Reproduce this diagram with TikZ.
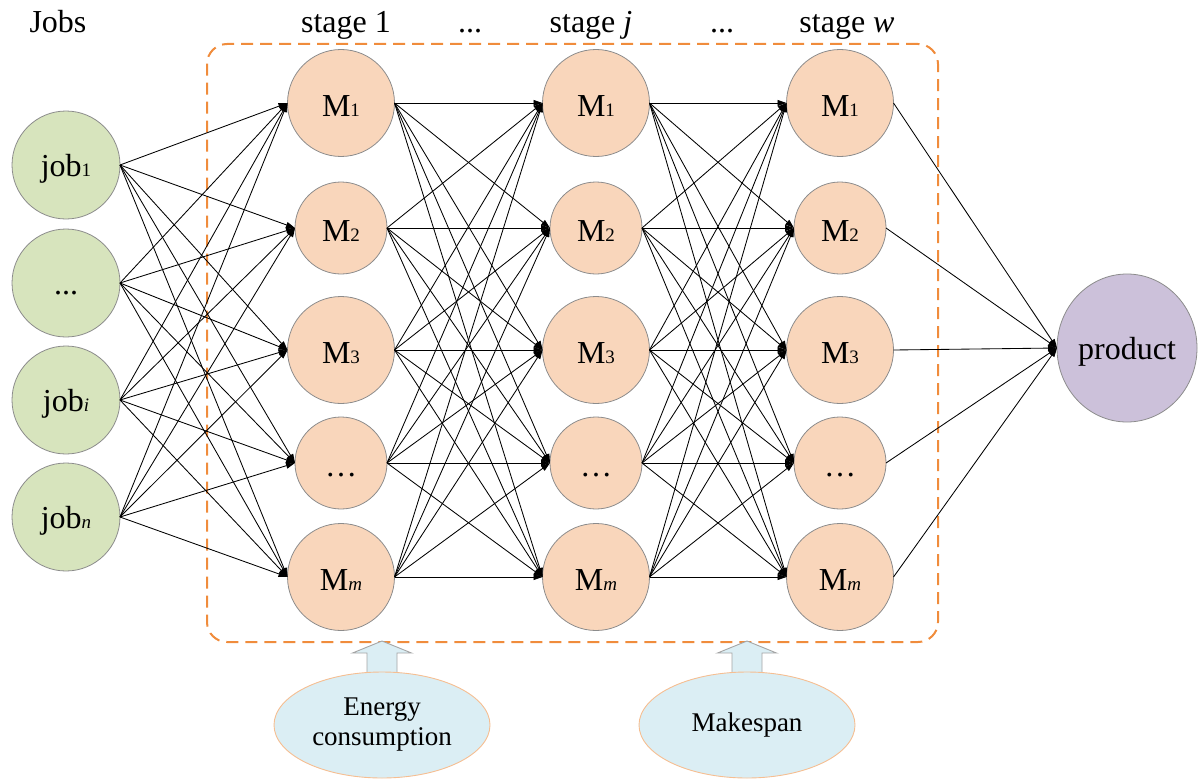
\documentclass[tikz,border=0pt]{standalone}
\usepackage{fontspec}
\setmainfont{Liberation Serif}
\newfontfamily\tnr{Liberation Serif}
\usetikzlibrary{arrows.meta,shapes.geometric}

\definecolor{jobfill}{RGB}{215,228,189}
\definecolor{machfill}{RGB}{249,214,187}
\definecolor{prodfill}{RGB}{204,193,218}
\definecolor{goalfill}{RGB}{219,238,244}
\definecolor{goalline}{RGB}{246,190,145}
\definecolor{nodeline}{RGB}{140,140,140}
\definecolor{boxline}{RGB}{240,140,60}
\definecolor{arrowline}{RGB}{165,165,165}

% small index set on the baseline after a letter
\newcommand\sbx[1]{{\fontsize{19}{19}\selectfont #1}}

\begin{document}
\begin{tikzpicture}[x=1pt,y=-1pt,
  every node/.style={inner sep=0pt, outer sep=0pt},
  bigtext/.style={font=\tnr\fontsize{32}{36}\selectfont},
  circ/.style={circle, draw=nodeline, line width=0.8pt, minimum size=#1, bigtext},
  jobnode/.style={circ=108pt, fill=jobfill, text height=26pt, text depth=4pt},
  bigm/.style={circ=107pt, fill=machfill, text height=30pt, text depth=3pt},
  smallm/.style={circ=92pt, fill=machfill, text height=30pt, text depth=3pt},
  prodnode/.style={ellipse, draw=nodeline, line width=0.8pt, fill=prodfill,
    minimum width=140pt, minimum height=148pt,
    bigtext, text height=26pt, text depth=4pt},
  goal/.style={ellipse, draw=goalline, line width=0.9pt, fill=goalfill,
    minimum width=216pt, minimum height=106pt, align=center,
    font=\tnr\fontsize{27}{30}\selectfont},
  link/.style={line width=0.85pt, -{Triangle[length=9pt,width=6pt]}},
  lbl/.style={anchor=base, bigtext},
  stagebox/.style={draw=boxline, line width=2pt, dash pattern=on 12pt off 7pt,
    rounded corners=20pt, minimum width=731pt, minimum height=598pt},
  blockarrow/.style={draw=arrowline, line width=0.9pt, fill=goalfill, line join=miter}
]
\useasboundingbox (0,0) rectangle (1198,781);

% dashed frame around the processing stages
\node[stagebox] (frame) at (572.5,343) {};

% column headings
\node[lbl] (hjobs) at (58,33) {Jobs};
\node[lbl] (hs1) at (346,33) {stage 1};
\node[lbl] (hd1) at (470,33) {...};
\node[lbl] (hsj) at (591,33) {stage \textit{j}};
\node[lbl] (hd2) at (722,33) {...};
\node[lbl] (hsw) at (847,33) {stage \textit{w}};

% jobs
\node[jobnode] (j1) at (66,165) {job\sbx{1}};
\node[jobnode] (j2) at (66,283) {...};
\node[jobnode] (j3) at (66,400) {job\sbx{\itshape i}};
\node[jobnode] (j4) at (66,517) {job\sbx{\itshape n}};

% machines of each stage
\foreach \s/\x in {a/341, b/596, c/840} {
  \node[bigm]   (\s1) at (\x,103) {M\sbx{1}};
  \node[smallm] (\s2) at (\x,228) {M\sbx{2}};
  \node[bigm]   (\s3) at (\x,350) {M\sbx{3}};
  \node[smallm] (\s4) at (\x,463) {\ldots};
  \node[bigm]   (\s5) at (\x,577) {M\sbx{\itshape m}};
}

% final product
\node[prodnode] (prod) at (1127,348) {product};

% routes: jobs -> stage 1 -> stage j -> stage w -> product
\foreach \i in {1,...,4}
  \foreach \k in {1,...,5}
    \draw[link] (j\i.east) -- (a\k.west);
\foreach \i in {1,...,5}
  \foreach \k in {1,...,5} {
    \draw[link] (a\i.east) -- (b\k.west);
    \draw[link] (b\i.east) -- (c\k.west);
  }
\foreach \i in {1,...,5}
  \draw[link] (c\i.east) -- (prod.west);

% objectives
\coordinate (etip) at (382,641);
\coordinate (mtip) at (747,641);
\draw[blockarrow] (etip) -- ++(29.5,12) -- ++(-14.5,0) -- ++(0,21) -- ++(-30,0)
  -- ++(0,-21) -- ++(-14.5,0) -- cycle;
\draw[blockarrow] (mtip) -- ++(29.5,12) -- ++(-14.5,0) -- ++(0,21) -- ++(-30,0)
  -- ++(0,-21) -- ++(-14.5,0) -- cycle;
\node[goal] (energy) at (382,725) {Energy\\consumption};
\node[goal] (makespan) at (747,725) {Makespan};
\end{tikzpicture}
\end{document}
